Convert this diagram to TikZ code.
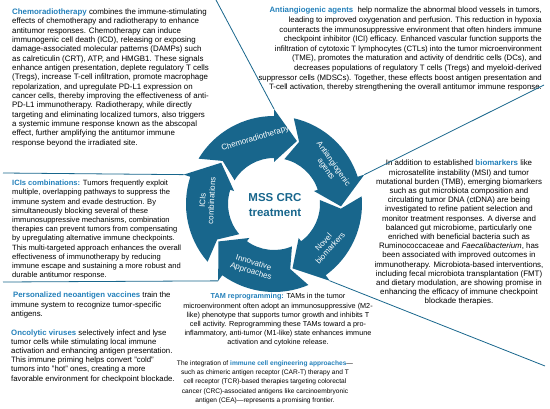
\documentclass[tikz,border=0pt]{standalone}
\usepackage{fontspec}
\setmainfont{Liberation Sans}

\definecolor{crcblue}{RGB}{24,102,140}
\definecolor{keyblue}{RGB}{35,128,186}
\newcommand{\kw}[1]{\textcolor{keyblue}{\textbf{#1}}}

\tikzset{
  para/.style={inner sep=0pt, font=\fontsize{7.8}{9.3}\selectfont},
  lead/.style={draw=crcblue, line width=0.8pt},
  seglabel/.style={text=white, align=center, inner sep=0pt, font=\fontsize{8}{9}\selectfont}
}

\begin{document}
\begin{tikzpicture}[x=1pt,y=1pt]
\useasboundingbox (0,0) rectangle (550,408);

% text around the ring
\node[para, anchor=north west, align=left, font=\fontsize{7.9}{9.35}\selectfont] (chemotext) at (12,399.5) {\kw{Chemoradiotherapy} combines the immune-stimulating\\
effects of chemotherapy and radiotherapy to enhance\\
antitumor responses. Chemotherapy can induce\\
immunogenic cell death (ICD), releasing or exposing\\
damage-associated molecular patterns (DAMPs) such\\
as calreticulin (CRT), ATP, and HMGB1. These signals\\
enhance antigen presentation, deplete regulatory T cells\\
(Tregs), increase T-cell infiltration, promote macrophage\\
repolarization, and upregulate PD-L1 expression on\\
cancer cells, thereby improving the effectiveness of anti-\\
PD-L1 immunotherapy. Radiotherapy, while directly\\
targeting and eliminating localized tumors, also triggers\\
a systemic immune response known as the abscopal\\
effect, further amplifying the antitumor immune\\
response beyond the irradiated site.};

\node[para, anchor=north east, align=right, font=\fontsize{7.8}{9.6}\selectfont] (antitext) at (542,401) {\kw{Antiangiogenic agents}\ \ help normalize the abnormal blood vessels in tumors,\\
leading to improved oxygenation and perfusion. This reduction in hypoxia\\
counteracts the immunosuppressive environment that often hinders immune\\
checkpoint inhibitor (ICI) efficacy. Enhanced vascular function supports the\\
infiltration of cytotoxic T lymphocytes (CTLs) into the tumor microenvironment\\
(TME), promotes the maturation and activity of dendritic cells (DCs), and\\
decreases populations of regulatory T cells (Tregs) and myeloid-derived\\
suppressor cells (MDSCs). Together, these effects boost antigen presentation and\\
T-cell activation, thereby strengthening the overall antitumor immune response.};

\node[para, anchor=north, align=center, font=\fontsize{7.9}{9.2}\selectfont] (noveltext) at (459,248) {In addition to established \kw{biomarkers} like\\
microsatellite instability (MSI) and tumor\\
mutational burden (TMB), emerging biomarkers\\
such as gut microbiota composition and\\
circulating tumor DNA (ctDNA) are being\\
investigated to refine patient selection and\\
monitor treatment responses. A diverse and\\
balanced gut microbiome, particularly one\\
enriched with beneficial bacteria such as\\
Ruminococcaceae and \textit{Faecalibacterium}, has\\
been associated with improved outcomes in\\
immunotherapy. Microbiota-based interventions,\\
including fecal microbiota transplantation (FMT)\\
and dietary modulation, are showing promise in\\
enhancing the efficacy of immune checkpoint\\
blockade therapies.};

\node[para, anchor=north west, align=left, font=\fontsize{7.6}{9.2}\selectfont] (icitext) at (12,228) {\kw{ICIs combinations:} Tumors frequently exploit\\
multiple, overlapping pathways to suppress the\\
immune system and evade destruction. By\\
simultaneously blocking several of these\\
immunosuppressive mechanisms, combination\\
therapies can prevent tumors from compensating\\
by upregulating alternative immune checkpoints.\\
This multi-targeted approach enhances the overall\\
effectiveness of immunotherapy by reducing\\
immune escape and sustaining a more robust and\\
durable antitumor response.};

\node[para, anchor=north west, align=left] (vaccinetext) at (11,116) {\hspace*{2pt}\kw{Personalized neoantigen vaccines} train the\\
immune system to recognize tumor-specific\\
antigens.};

\node[para, anchor=north west, align=left, font=\fontsize{7.8}{9.15}\selectfont] (virustext) at (11,78.5) {\kw{Oncolytic viruses} selectively infect and lyse\\
tumor cells while stimulating local immune\\
activation and enhancing antigen presentation.\\
This immune priming helps convert "cold"\\
tumors into "hot" ones, creating a more\\
favorable environment for checkpoint blockade.};

\node[para, anchor=north, align=center, font=\fontsize{7.25}{9.2}\selectfont] (tamtext) at (278,114.5) {\kw{TAM reprogramming:} TAMs in the tumor\\
microenvironment often adopt an immunosuppressive (M2-\\
like) phenotype that supports tumor growth and inhibits T\\
cell activity. Reprogramming these TAMs toward a pro-\\
inflammatory, anti-tumor (M1-like) state enhances immune\\
activation and cytokine release.};

\node[para, anchor=north, align=center, font=\fontsize{6.6}{9.2}\selectfont] (celltext) at (265,47.5) {The integration of \kw{immune cell engineering approaches}—\\
such as chimeric antigen receptor (CAR-T) therapy and T\\
cell receptor (TCR)-based therapies targeting colorectal\\
cancer (CRC)-associated antigens like carcinoembryonic\\
antigen (CEA)—represents a promising frontier.};

% ring of arrows
\begin{scope}[shift={(274,204)}]
\foreach \ang/\seg in {105/chemo, 33/anti, -39/novel, -111/innov, 177/ici} {
  \pgfmathsetmacro{\ta}{\ang+44}
  \pgfmathsetmacro{\tn}{\ang+35}
  \pgfmathsetmacro{\hb}{\ang-15}
  \pgfmathsetmacro{\tp}{\ang-35}
  \fill[crcblue] (\ta:88) arc[start angle=\ta, end angle=\hb, radius=88]
    -- (\hb:95) -- (\tp:67) -- (\hb:42) -- (\hb:46)
    arc[start angle=\hb, end angle=\ta, radius=46] -- (\tn:67) -- cycle;
  \coordinate (\seg flare) at (\hb:95);
}
\node[seglabel, rotate=17] (chemolab) at (106:68) {Chemoradiotherapy};
\node[seglabel, rotate=-55] (antilab) at (34:67) {Antiangiogenic\\agents};
\node[seglabel, rotate=48] (novellab) at (-38:67) {Novel\\biomarkers};
\node[seglabel, rotate=-17] (innovlab) at (-109:67) {Innovative\\Approaches};
\node[seglabel, rotate=87] (icilab) at (177:67) {ICIs\\combinations};
\node[text=crcblue, align=center, inner sep=0pt, font=\bfseries\fontsize{11.5}{14.5}\selectfont] (core) at (1,-1) {MSS CRC\\treatment};
\end{scope}

% leader lines
\coordinate (chemoend) at (216,408);
\coordinate (antiend) at (544,323);
\coordinate (iciend) at (3,235);
\coordinate (innovend) at (3,126);
\coordinate (novelend) at (545,42);
\draw[lead] (chemoend) -- (chemoflare);
\draw[lead] (antiend) -- (antiflare);
\draw[lead] (iciend) -- (iciflare);
\draw[lead] (innovend) -- (innovflare);
\draw[lead] (novelend) -- (novelflare);
\end{tikzpicture}
\end{document}
